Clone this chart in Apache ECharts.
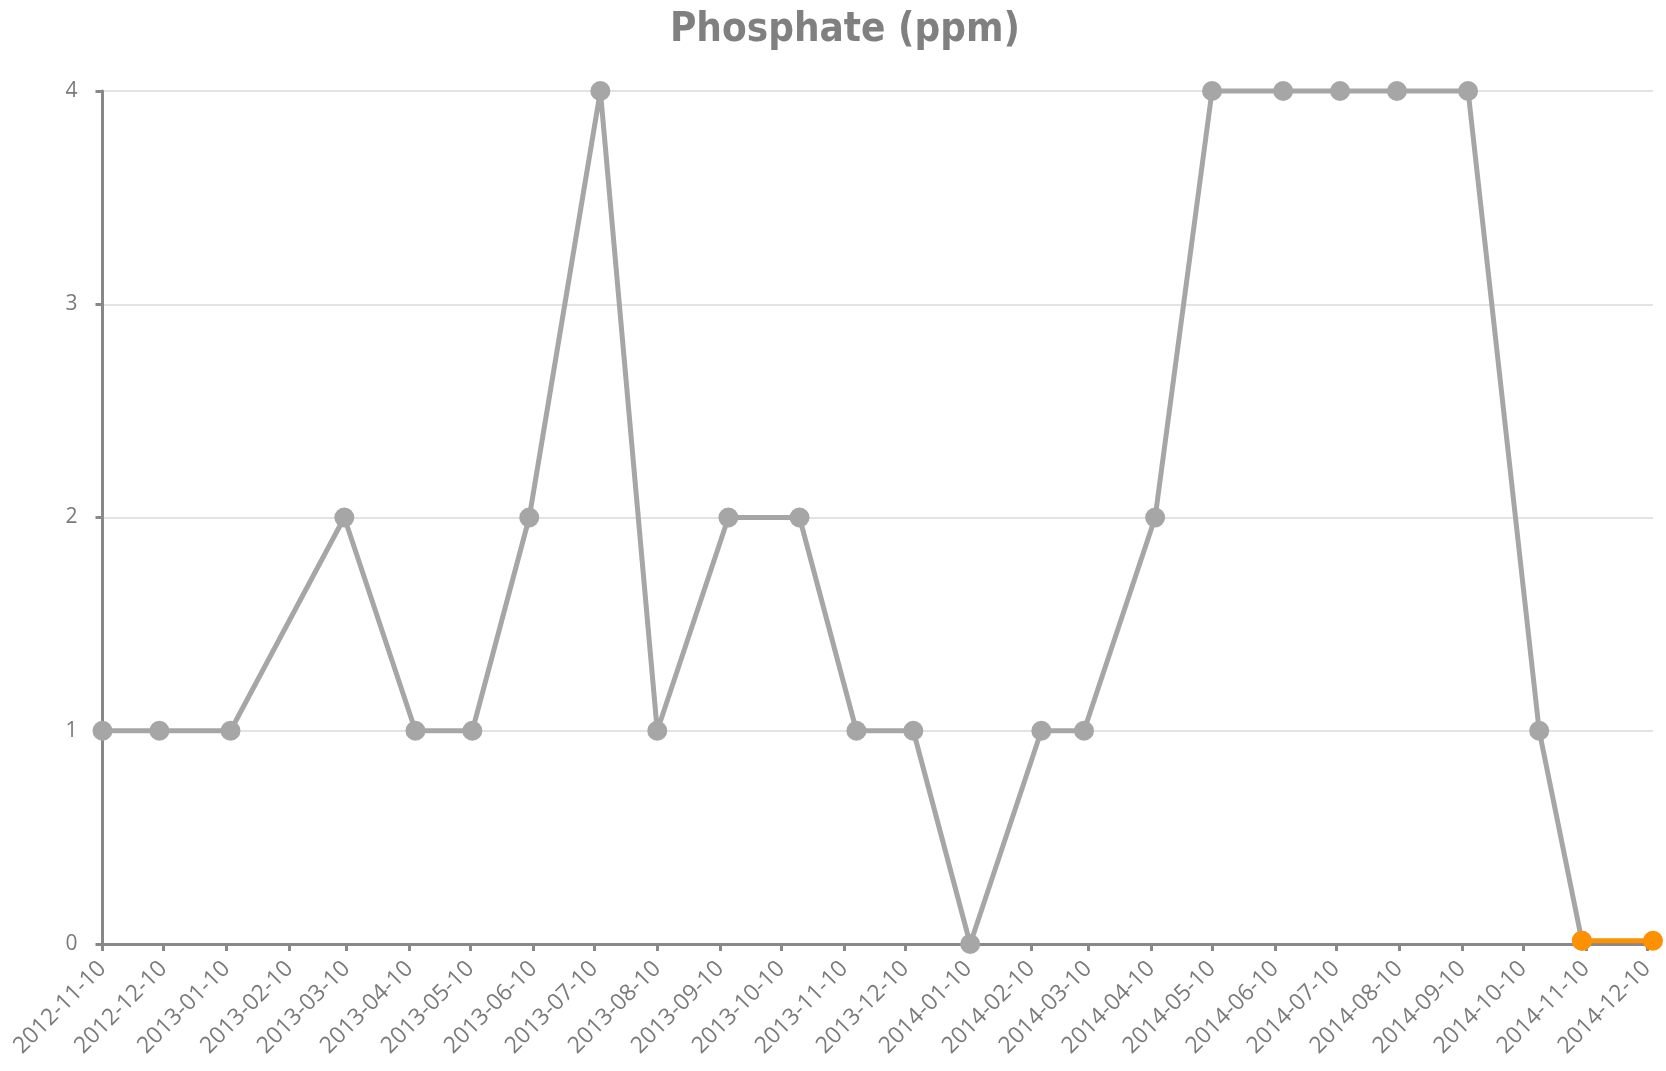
<!DOCTYPE html>
<html>
<head>
<meta charset="utf-8">
<title>Phosphate (ppm)</title>
<script src="https://cdn.jsdelivr.net/npm/echarts@6.0.0/dist/echarts.min.js"></script>
<style>
    html, body { margin: 0; padding: 0; background: #fff; }
    #chart { width: 1666px; height: 1071px; }
</style>
</head>
<body>
<div id="chart"></div>
<script>
// sampling dates (monthly, on saturdays) and readings
const dates = [
    '2012-11-10', '2012-12-08', '2013-01-12', '2013-03-09', '2013-04-13', '2013-05-11',
    '2013-06-08', '2013-07-13', '2013-08-10', '2013-09-14', '2013-10-19', '2013-11-16',
    '2013-12-14', '2014-01-11', '2014-02-15', '2014-03-08', '2014-04-12', '2014-05-10',
    '2014-06-14', '2014-07-12', '2014-08-09', '2014-09-13', '2014-10-18', '2014-11-08'
];
const phosphate = [1, 1, 1, 2, 1, 1, 2, 4, 1, 2, 2, 1, 1, 0, 1, 1, 2, 4, 4, 4, 4, 4, 1, 0.015];

// latest readings, highlighted
const latestDates = ['2014-11-08', '2014-12-13'];
const latestValues = [0.015, 0.015];

// x tick labels
const tickLabels = [
    '2012-11-10', '2012-12-10', '2013-01-10', '2013-02-10', '2013-03-10', '2013-04-10',
    '2013-05-10', '2013-06-10', '2013-07-10', '2013-08-10', '2013-09-10', '2013-10-10',
    '2013-11-10', '2013-12-10', '2014-01-10', '2014-02-10', '2014-03-10', '2014-04-10',
    '2014-05-10', '2014-06-10', '2014-07-10', '2014-08-10', '2014-09-10', '2014-10-10',
    '2014-11-10', '2014-12-10'
];

// days since first sample, so the x axis is a plain value axis
const DAY = 86400000;
const t0 = Date.UTC(2012, 10, 10);
const toDay = s => {
    const p = s.split('-').map(Number);
    return Math.round((Date.UTC(p[0], p[1] - 1, p[2]) - t0) / DAY);
};
const tickValues = tickLabels.map(toDay);
const labelFor = {};
tickLabels.forEach((s, i) => { labelFor[tickValues[i]] = s; });

const font = "'Open Sans', 'DejaVu Sans', sans-serif";

const option = {
    animation: false,
    title: {
        text: 'Phosphate (ppm)',
        left: 665,
        top: 6,
        textStyle: {
            fontFamily: "'DejaVu Sans Condensed', 'DejaVu Sans', sans-serif",
            fontWeight: 'bold',
            fontSize: 40,
            color: '#808080'
        }
    },
    grid: {
        left: 102.5,
        right: 13,
        top: 91,
        bottom: 127,
        containLabel: false
    },
    xAxis: {
        type: 'value',
        min: toDay(dates[0]),
        max: toDay(latestDates[1]),
        axisLine: { lineStyle: { color: '#888', width: 3 } },
        axisTick: {
            show: true,
            length: 7,
            customValues: tickValues,
            lineStyle: { color: '#888', width: 3 }
        },
        axisLabel: {
            customValues: tickValues,
            formatter: v => labelFor[v] || '',
            rotate: 45,
            margin: 21,
            color: '#7a7a7a',
            fontSize: 23,
            fontFamily: font
        },
        splitLine: { show: false }
    },
    yAxis: {
        type: 'value',
        min: 0,
        max: 4,
        interval: 1,
        axisLine: { show: true, lineStyle: { color: '#888', width: 3 } },
        axisTick: { show: true, length: 7, lineStyle: { color: '#888', width: 3 } },
        axisLabel: { color: '#7a7a7a', fontSize: 21, margin: 25, fontFamily: font },
        splitLine: { lineStyle: { color: '#dadada', width: 1.5 } }
    },
    series: [
        {
            name: 'Phosphate',
            type: 'line',
            data: dates.map((d, i) => [toDay(d), phosphate[i]]),
            symbol: 'circle',
            symbolSize: 20,
            clip: false,
            lineStyle: { color: '#a6a6a6', width: 5 },
            itemStyle: { color: '#a6a6a6' }
        },
        {
            name: 'Latest',
            type: 'line',
            data: latestDates.map((d, i) => [toDay(d), latestValues[i]]),
            symbol: 'circle',
            symbolSize: 20,
            clip: false,
            z: 3,
            lineStyle: { color: '#ff9000', width: 5 },
            itemStyle: { color: '#ff9000' }
        }
    ]
};

const chart = echarts.init(document.getElementById('chart'));
chart.setOption(option);
</script>
</body>
</html>
